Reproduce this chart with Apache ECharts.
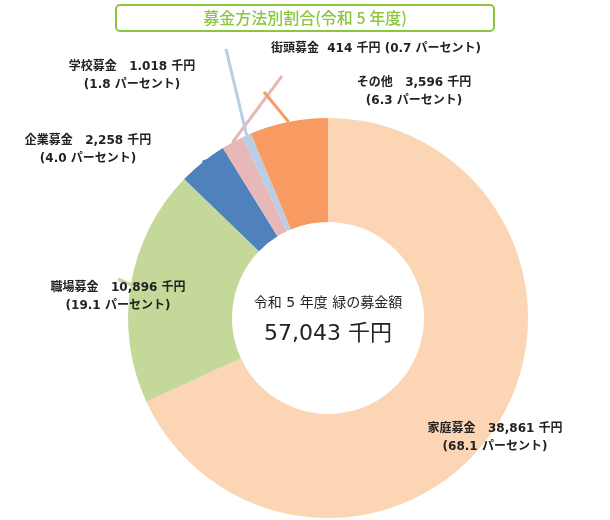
<!DOCTYPE html><html><head><meta charset="utf-8">
<script src="https://cdn.jsdelivr.net/npm/echarts@6/dist/echarts.min.js"></script>
<style>html,body{margin:0;background:#fff}#c{width:610px;height:520px}</style></head><body><div id="c"></div>
<script>
const categories=['家庭募金','職場募金','企業募金','学校募金','街頭募金','その他'];
const values=[38861,10896,2258,1018,414,3596];
const valueLabels=['38,861','10,896','2,258','1.018','414','3,596'];
const percents=['68.1','19.1','4.0','1.8','0.7','6.3'];
const colors=['#fcd5b5','#c4d89a','#4f81bd','#e6b9b8','#b9cde5','#f79b62'];
const totalLabel='57,043';
const labelPos=[[495,438,'center'],[118,297,'center'],[88,150,'center'],[132,76,'center'],[376,49,'center'],[414,92,'center']];
const chart=echarts.init(document.getElementById('c'));
const F='"DejaVu Sans","Noto Sans CJK JP",sans-serif';
chart.setOption({
 animation:false,
 graphic:[
  {type:'rect',shape:{x:116,y:5,width:378,height:26,r:4},style:{fill:'#fff',stroke:'#8cc63f',lineWidth:2}},
  {type:'text',x:305,y:18,style:{text:'募金方法別割合(令和 5 年度)',font:'500 16px "Noto Sans CJK JP"',fill:'#8cc63f',align:'center',verticalAlign:'middle'}},
  {type:'text',x:328,y:303,style:{text:'令和 5 年度 緑の募金額',font:'14px '+F,fill:'#222',align:'center',verticalAlign:'middle'}},
  {type:'text',x:328,y:334,style:{text:totalLabel+' 千円',font:'22px '+F,fill:'#222',align:'center',verticalAlign:'middle'}}
 ],
 series:[{type:'pie',center:[328,318],radius:[96,200],startAngle:90,clockwise:true,
  data:categories.map((n,i)=>({name:n,value:values[i],itemStyle:{color:colors[i]},labelLine:{lineStyle:{color:colors[i],width:3}}})),
  label:{show:true,fontFamily:F,fontSize:12,fontWeight:'bold',color:'#222',lineHeight:18,overflow:'none',width:300,
   formatter:p=>{const i=p.dataIndex;return i===4?categories[i]+'  '+valueLabels[i]+' 千円 ('+percents[i]+' パーセント)':categories[i]+'   '+valueLabels[i]+' 千円\n('+percents[i]+' パーセント)';}},
  labelLine:{show:true,length:15,length2:15},
  labelLayout:p=>{const l=labelPos[p.dataIndex];return {x:l[0],y:l[1],align:l[2],verticalAlign:'middle',width:300};}
 }]
});
</script></body></html>
